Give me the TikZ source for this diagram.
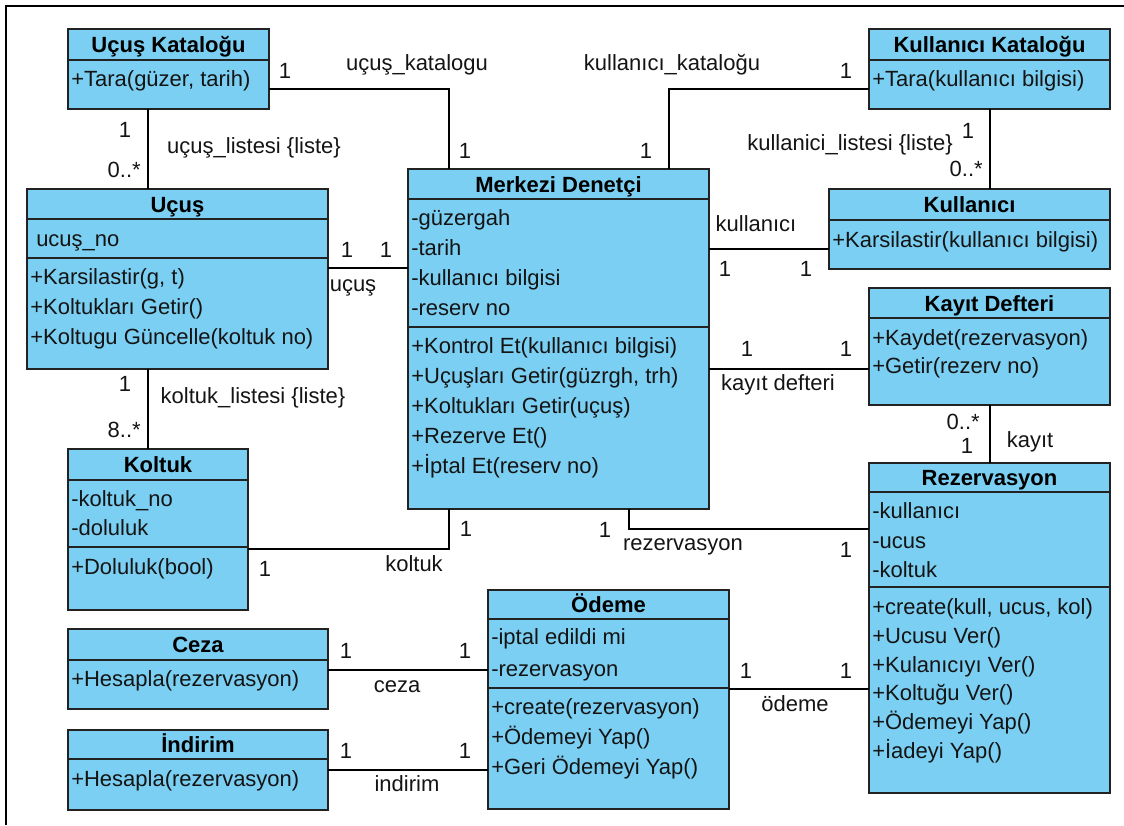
\documentclass[tikz,border=0pt]{standalone}
\usepackage{fontspec}
\setmainfont{Liberation Sans}
\usetikzlibrary{calc}

\definecolor{clsfill}{RGB}{122,207,242}
\definecolor{clsline}{RGB}{34,34,34}
\definecolor{txt}{RGB}{20,20,20}

\newcommand\umlfont{\fontsize{16.5pt}{20pt}\selectfont}

\tikzset{
  cls/.style={rectangle, draw=clsline, fill=clsfill, line width=1.1pt, inner sep=0pt, outer sep=0pt},
  sepline/.style={draw=clsline, line width=1.1pt},
  member/.style={anchor=base west, inner sep=0pt, text=txt, font=\umlfont},
  ctitle/.style={anchor=base, inner sep=0pt, text=black, font=\umlfont\bfseries},
  assoc/.style={draw=black, line width=1.1pt},
  lbl/.style={anchor=base, inner sep=0pt, text=txt, font=\umlfont},
  lblr/.style={anchor=base east, inner sep=0pt, text=txt, font=\umlfont},
}

% class rectangle: name, left, top, right, bottom (pixel units)
\newcommand\umlbox[5]{%
  \node[cls, anchor=north west, minimum width={(#4-#2)*0.75pt},
        minimum height={(#5-#3)*0.75pt}] (#1) at (#2,#3) {};}
% horizontal compartment separator of a class at height #2
\newcommand\umlsep[2]{\draw[sepline] (#1.west |- 0,#2) -- (#1.east |- 0,#2);}

\begin{document}
\begin{tikzpicture}[x=0.75pt, y=-0.75pt]
\useasboundingbox (0,0) rectangle (1124,825);

% outer frame
\draw[line width=2.2pt, black] (6,825) -- (6,6) -- (1124,6);

% ---------- Uçuş Kataloğu ----------
\umlbox{uk}{68}{29}{269}{109}
\umlsep{uk}{60}
\node[ctitle] (uk-t) at (uk.north |- 0,52.5) {Uçuş Kataloğu};
\node[member] (uk-m1) at (71,86) {+Tara(güzer, tarih)};

% ---------- Kullanıcı Kataloğu ----------
\umlbox{kk}{869}{29}{1110}{109}
\umlsep{kk}{60}
\node[ctitle] (kk-t) at (kk.north |- 0,52.5) {Kullanıcı Kataloğu};
\node[member] (kk-m1) at (872,86) {+Tara(kullanıcı bilgisi)};

% ---------- Kullanıcı ----------
\umlbox{ku}{829}{189}{1110}{269}
\umlsep{ku}{220}
\node[ctitle] (ku-t) at (ku.north |- 0,212.5) {Kullanıcı};
\node[member] (ku-m1) at (832,247) {+Karsilastir(kullanıcı bilgisi)};

% ---------- Uçuş ----------
\umlbox{uc}{27}{189}{328}{369}
\umlsep{uc}{219}
\umlsep{uc}{258}
\node[ctitle] (uc-t) at (uc.north |- 0,212) {Uçuş};
\node[member] (uc-a1) at (36,246) {ucuş\_no};
\node[member] (uc-m1) at (30,284) {+Karsilastir(g, t)};
\node[member] (uc-m2) at (30,314) {+Koltukları Getir()};
\node[member] (uc-m3) at (30,344) {+Koltugu Güncelle(koltuk no)};

% ---------- Merkezi Denetçi ----------
\umlbox{md}{408}{169}{709}{509}
\umlsep{md}{199}
\umlsep{md}{327}
\node[ctitle] (md-t) at (md.north |- 0,192) {Merkezi Denetçi};
\node[member] (md-a1) at (411,225) {-güzergah};
\node[member] (md-a2) at (411,255) {-tarih};
\node[member] (md-a3) at (411,285) {-kullanıcı bilgisi};
\node[member] (md-a4) at (411,315) {-reserv no};
\node[member] (md-m1) at (411,353) {+Kontrol Et(kullanıcı bilgisi)};
\node[member] (md-m2) at (411,383) {+Uçuşları Getir(güzrgh, trh)};
\node[member] (md-m3) at (411,413) {+Koltukları Getir(uçuş)};
\node[member] (md-m4) at (411,443) {+Rezerve Et()};
\node[member] (md-m5) at (411,473) {+İptal Et(reserv no)};

% ---------- Kayıt Defteri ----------
\umlbox{kd}{869}{288}{1110}{405}
\umlsep{kd}{318}
\node[ctitle] (kd-t) at (kd.north |- 0,311) {Kayıt Defteri};
\node[member] (kd-m1) at (872,345) {+Kaydet(rezervasyon)};
\node[member] (kd-m2) at (872,373) {+Getir(rezerv no)};

% ---------- Rezervasyon ----------
\umlbox{rz}{869}{463}{1110}{793}
\umlsep{rz}{492}
\umlsep{rz}{587}
\node[ctitle] (rz-t) at (rz.north |- 0,485.5) {Rezervasyon};
\node[member] (rz-a1) at (872,518) {-kullanıcı};
\node[member] (rz-a2) at (872,548) {-ucus};
\node[member] (rz-a3) at (872,577) {-koltuk};
\node[member] (rz-m1) at (872,614) {+create(kull, ucus, kol)};
\node[member] (rz-m2) at (872,643) {+Ucusu Ver()};
\node[member] (rz-m3) at (872,672) {+Kulanıcıyı Ver()};
\node[member] (rz-m4) at (872,700) {+Koltuğu Ver()};
\node[member] (rz-m5) at (872,729) {+Ödemeyi Yap()};
\node[member] (rz-m6) at (872,758) {+İadeyi Yap()};

% ---------- Koltuk ----------
\umlbox{ko}{68}{449}{248}{610}
\umlsep{ko}{480}
\umlsep{ko}{547}
\node[ctitle] (ko-t) at (ko.north |- 0,472.5) {Koltuk};
\node[member] (ko-a1) at (71,506) {-koltuk\_no};
\node[member] (ko-a2) at (71,535) {-doluluk};
\node[member] (ko-m1) at (71,574) {+Doluluk(bool)};

% ---------- Ceza ----------
\umlbox{ce}{68}{629}{328}{709}
\umlsep{ce}{660}
\node[ctitle] (ce-t) at (ce.north |- 0,652.5) {Ceza};
\node[member] (ce-m1) at (71,686) {+Hesapla(rezervasyon)};

% ---------- İndirim ----------
\umlbox{ind}{68}{730}{328}{810}
\umlsep{ind}{759}
\node[ctitle] (ind-t) at (ind.north |- 0,752.5) {İndirim};
\node[member] (ind-m1) at (71,786) {+Hesapla(rezervasyon)};

% ---------- Ödeme ----------
\umlbox{od}{488}{590}{729}{809}
\umlsep{od}{619}
\umlsep{od}{688}
\node[ctitle] (od-t) at (od.north |- 0,612.5) {Ödeme};
\node[member] (od-a1) at (491,644) {-iptal edildi mi};
\node[member] (od-a2) at (491,676) {-rezervasyon};
\node[member] (od-m1) at (491,714) {+create(rezervasyon)};
\node[member] (od-m2) at (491,744) {+Ödemeyi Yap()};
\node[member] (od-m3) at (491,774) {+Geri Ödemeyi Yap()};

% ---------- associations ----------
\draw[assoc] (uk.east |- 0,89) -| (md.north -| 449,0);
\draw[assoc] (kk.west |- 0,89) -| (md.north -| 669,0);
\draw[assoc] (kk.south -| 990,0) -- (ku.north -| 990,0);
\draw[assoc] (uk.south -| 148,0) -- (uc.north -| 148,0);
\draw[assoc] (uc.south -| 148,0) -- (ko.north -| 148,0);
\draw[assoc] (uc.east |- 0,268) -- (md.west |- 0,268);
\draw[assoc] (md.east |- 0,249) -- (ku.west |- 0,249);
\draw[assoc] (md.east |- 0,369) -- (kd.west |- 0,369);
\draw[assoc] (kd.south -| 990,0) -- (rz.north -| 990,0);
\draw[assoc] (ko.east |- 0,549) -| (md.south -| 449,0);
\draw[assoc] (md.south -| 629,0) |- (rz.west |- 0,529);
\draw[assoc] (od.east |- 0,689) -- (rz.west |- 0,689);
\draw[assoc] (ce.east |- 0,670) -- (od.west |- 0,670);
\draw[assoc] (ind.east |- 0,770) -- (od.west |- 0,770);

% ---------- association labels ----------
\node[lbl] (l-uk1) at (285,78) {1};
\node[lbl] (l-ukn) at (417,70) {uçuş\_katalogu};
\node[lbl] (l-uk2) at (465,158) {1};

\node[lbl] (l-kkn) at (672,70) {kullanıcı\_kataloğu};
\node[lbl] (l-kk1) at (646,158) {1};
\node[lbl] (l-kk2) at (846,78) {1};

\node[lbl] (l-kln) at (850,150) {kullanici\_listesi \{liste\}};
\node[lbl] (l-kl1) at (968,138) {1};
\node[lblr] (l-kl2) at (983,176) {0..*};

\node[lbl] (l-ul1) at (125,137) {1};
\node[lblr] (l-ul2) at (141,177) {0..*};
\node[lbl] (l-uln) at (254,153) {uçuş\_listesi \{liste\}};

\node[lbl] (l-ko1) at (125,391) {1};
\node[lbl] (l-kon) at (253,403) {koltuk\_listesi \{liste\}};
\node[lblr] (l-ko2) at (141,437) {8..*};

\node[lbl] (l-uc1) at (347,257) {1};
\node[lbl] (l-uc2) at (386,257) {1};
\node[lbl] (l-ucn) at (353,291) {uçuş};

\node[lbl] (l-kun) at (756,231) {kullanıcı};
\node[lbl] (l-ku1) at (725,276) {1};
\node[lbl] (l-ku2) at (806,276) {1};

\node[lbl] (l-kd1) at (747,356) {1};
\node[lbl] (l-kd2) at (846,356) {1};
\node[lbl] (l-kdn) at (778,390) {kayıt defteri};

\node[lblr] (l-ky1) at (980,429) {0..*};
\node[lbl] (l-ky2) at (967,453) {1};
\node[lbl] (l-kyn) at (1030,447) {kayıt};

\node[lbl] (l-kt1) at (265,576) {1};
\node[lbl] (l-ktn) at (414,571) {koltuk};
\node[lbl] (l-kt2) at (466,536) {1};

\node[lbl] (l-rz1) at (605,537) {1};
\node[lbl] (l-rzn) at (683,550) {rezervasyon};
\node[lbl] (l-rz2) at (846,557) {1};

\node[lbl] (l-od1) at (746,678) {1};
\node[lbl] (l-od2) at (846,678) {1};
\node[lbl] (l-odn) at (795,711) {ödeme};

\node[lbl] (l-ce1) at (346,658) {1};
\node[lbl] (l-ce2) at (465,658) {1};
\node[lbl] (l-cen) at (397,692) {ceza};

\node[lbl] (l-in1) at (346,758) {1};
\node[lbl] (l-in2) at (465,758) {1};
\node[lbl] (l-inn) at (407,791) {indirim};
\end{tikzpicture}
\end{document}
